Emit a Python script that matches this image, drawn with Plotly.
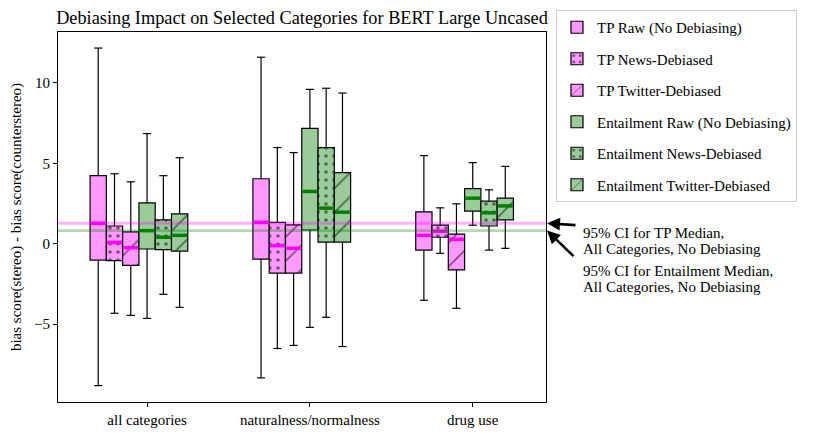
import plotly.graph_objects as go

categories = ["all categories", "naturalness/normalness", "drug use"]
series_names = ["TP Raw (No Debiasing)", "TP News-Debiased", "TP Twitter-Debiased",
                "Entailment Raw (No Debiasing)", "Entailment News-Debiased", "Entailment Twitter-Debiased"]

# per series: values for [all categories, naturalness/normalness, drug use]
tp_raw_low = [-8.83, -8.35, -3.52]
tp_raw_q1 = [-1.02, -0.96, -0.40]
tp_raw_med = [1.27, 1.33, 0.52]
tp_raw_q3 = [4.23, 4.04, 1.98]
tp_raw_high = [12.17, 11.6, 5.48]

tp_news_low = [-4.33, -6.52, -0.60]
tp_news_q1 = [-1.06, -1.83, 0.40]
tp_news_med = [0.08, -0.12, 0.77]
tp_news_q3 = [1.10, 1.33, 1.15]
tp_news_high = [4.35, 5.98, 2.23]

tp_tw_low = [-4.46, -6.33, -4.02]
tp_tw_q1 = [-1.35, -1.83, -1.63]
tp_tw_med = [-0.25, -0.29, 0.27]
tp_tw_q3 = [0.73, 1.17, 0.60]
tp_tw_high = [3.85, 5.67, 2.48]

ent_raw_low = [-4.65, -5.21, 1.15]
ent_raw_q1 = [-0.33, 0.85, 2.02]
ent_raw_med = [0.81, 3.25, 2.83]
ent_raw_q3 = [2.54, 7.17, 3.42]
ent_raw_high = [6.85, 9.60, 5.04]

ent_news_low = [-3.15, -4.58, -0.40]
ent_news_q1 = [-0.37, 0.10, 1.10]
ent_news_med = [0.40, 2.21, 1.92]
ent_news_q3 = [1.48, 5.98, 2.65]
ent_news_high = [4.23, 9.67, 3.35]

ent_tw_low = [-3.96, -6.40, -0.29]
ent_tw_q1 = [-0.46, 0.10, 1.48]
ent_tw_med = [0.52, 1.96, 2.35]
ent_tw_q3 = [1.85, 4.42, 2.83]
ent_tw_high = [5.35, 9.375, 4.81]

tp_ci = [1.18, 1.36]
ent_ci = [0.73, 0.90]

y_ticks = [-5, 0, 5, 10]

series = [
    (tp_raw_low, tp_raw_q1, tp_raw_med, tp_raw_q3, tp_raw_high),
    (tp_news_low, tp_news_q1, tp_news_med, tp_news_q3, tp_news_high),
    (tp_tw_low, tp_tw_q1, tp_tw_med, tp_tw_q3, tp_tw_high),
    (ent_raw_low, ent_raw_q1, ent_raw_med, ent_raw_q3, ent_raw_high),
    (ent_news_low, ent_news_q1, ent_news_med, ent_news_q3, ent_news_high),
    (ent_tw_low, ent_tw_q1, ent_tw_med, ent_tw_q3, ent_tw_high),
]

PINK = "#FF99FF"
GREEN = "#99CC99"
fills = [PINK, PINK, PINK, GREEN, GREEN, GREEN]
median_colors = ["#FF00FF"] * 3 + ["#008000"] * 3
patterns = ["", ".", "/", "", ".", "/"]
offsets = [-0.3, -0.2, -0.1, 0.0, 0.1, 0.2]
W = 0.1
CAP = 0.025

# page-pixel layout (browser body margin of 8px is compensated)
BODY = 8
FIG_W, FIG_H = 815 - BODY, 437 - BODY
PL, PR, PT, PB = 58, 546, 32, 402  # plot area in page pixels
PW, PH = PR - PL, PB - PT


def px_x(p):
    return (p - PL) / PW


def px_y(p):
    return (PB - p) / PH


FONT = "Times New Roman, Liberation Serif, Times, serif"
fig = go.Figure()

for i, (low, q1, med, q3, high) in enumerate(series):
    xs = [g + offsets[i] for g in range(len(categories))]
    pat = dict(shape=patterns[i], fgcolor="black", bgcolor=fills[i])
    if patterns[i] == ".":
        pat.update(size=8, solidity=0.16)
    elif patterns[i] == "/":
        pat.update(size=17, solidity=0.1)
    fig.add_trace(go.Bar(
        x=xs, y=[b - a for a, b in zip(q1, q3)], base=q1, width=W,
        name=series_names[i], legendgroup=f"g{i}",
        marker=dict(color=fills[i], line=dict(color="black", width=1.2), pattern=pat),
        hoverinfo="skip",
    ))
    # whiskers and caps
    wx, wy = [], []
    for x, lo, a, b, hi in zip(xs, low, q1, q3, high):
        wx += [x, x, None, x, x, None, x - CAP, x + CAP, None, x - CAP, x + CAP, None]
        wy += [b, hi, None, a, lo, None, hi, hi, None, lo, lo, None]
    fig.add_trace(go.Scatter(x=wx, y=wy, mode="lines", line=dict(color="black", width=1.2),
                             showlegend=False, hoverinfo="skip"))
    # medians
    mx, my = [], []
    for x, m in zip(xs, med):
        mx += [x - W / 2 + 0.004, x + W / 2 - 0.004, None]
        my += [m, m, None]
    fig.add_trace(go.Scatter(x=mx, y=my, mode="lines", line=dict(color=median_colors[i], width=3.5),
                             showlegend=False, hoverinfo="skip"))

# CI bands
for ci, col in [(tp_ci, "rgba(255,0,255,0.3)"), (ent_ci, "rgba(0,128,0,0.3)")]:
    fig.add_shape(type="rect", xref="paper", x0=0, x1=1, yref="y", y0=ci[0], y1=ci[1],
                  fillcolor=col, line=dict(width=0), layer="above")

# arrows
fig.add_annotation(xref="paper", x=px_x(547), yref="y", y=sum(tp_ci) / 2, ax=30, ay=2, text="",
                   showarrow=True, arrowhead=2, arrowsize=1.0, arrowwidth=2.6, arrowcolor="black")
fig.add_annotation(xref="paper", x=px_x(547), yref="y", y=sum(ent_ci) / 2, ax=28, ay=27, text="",
                   showarrow=True, arrowhead=2, arrowsize=1.0, arrowwidth=2.6, arrowcolor="black")

lines = [("95% CI for TP Median,", 233), ("All Categories, No Debiasing", 249),
         ("95% CI for Entailment Median,", 271), ("All Categories, No Debiasing", 287)]
for txt, py in lines:
    fig.add_annotation(xref="paper", yref="paper", x=px_x(581), y=px_y(py),
                       xanchor="left", yanchor="middle", text=txt, showarrow=False,
                       font=dict(family=FONT, size=15, color="black"))

fig.update_layout(
    width=FIG_W, height=FIG_H,
    margin=dict(l=PL - BODY, r=FIG_W - (PR - BODY), t=PT - BODY, b=FIG_H - (PB - BODY), autoexpand=False),
    plot_bgcolor="white", paper_bgcolor="white",
    barmode="overlay",
    font=dict(family=FONT, size=15, color="black"),
    title=dict(text="Debiasing Impact on Selected Categories for BERT Large Uncased",
               x=((PL + PR) / 2 - BODY) / FIG_W, xanchor="center",
               y=1 - (18 - BODY) / FIG_H, yanchor="middle",
               font=dict(family=FONT, size=18.3, color="black")),
    legend=dict(x=px_x(556), y=px_y(10), xanchor="left", yanchor="top",
                bordercolor="#CCCCCC", borderwidth=1, bgcolor="white",
                font=dict(family=FONT, size=15), tracegroupgap=9),
    showlegend=True,
)
fig.update_xaxes(range=[-0.547, 2.45], tickmode="array", tickvals=list(range(len(categories))),
                 ticktext=categories, showgrid=False, zeroline=False, showline=True,
                 linecolor="black", linewidth=1, mirror=True, ticks="outside", ticklen=4,
                 tickcolor="black", tickfont=dict(family=FONT, size=15))
fig.update_yaxes(range=[-9.85, 13.17], tickvals=y_ticks, tickmode="array",
                 ticktext=["\u22125", "0", "5", "10"],
                 showgrid=False, zeroline=False, showline=True,
                 linecolor="black", linewidth=1, mirror=True, ticks="outside", ticklen=4,
                 tickcolor="black", tickfont=dict(family=FONT, size=15),
                 title=dict(text="bias score(stereo) - bias score(counterstereo)", standoff=12,
                            font=dict(family=FONT, size=15)))

fig.write_html("out.html")
